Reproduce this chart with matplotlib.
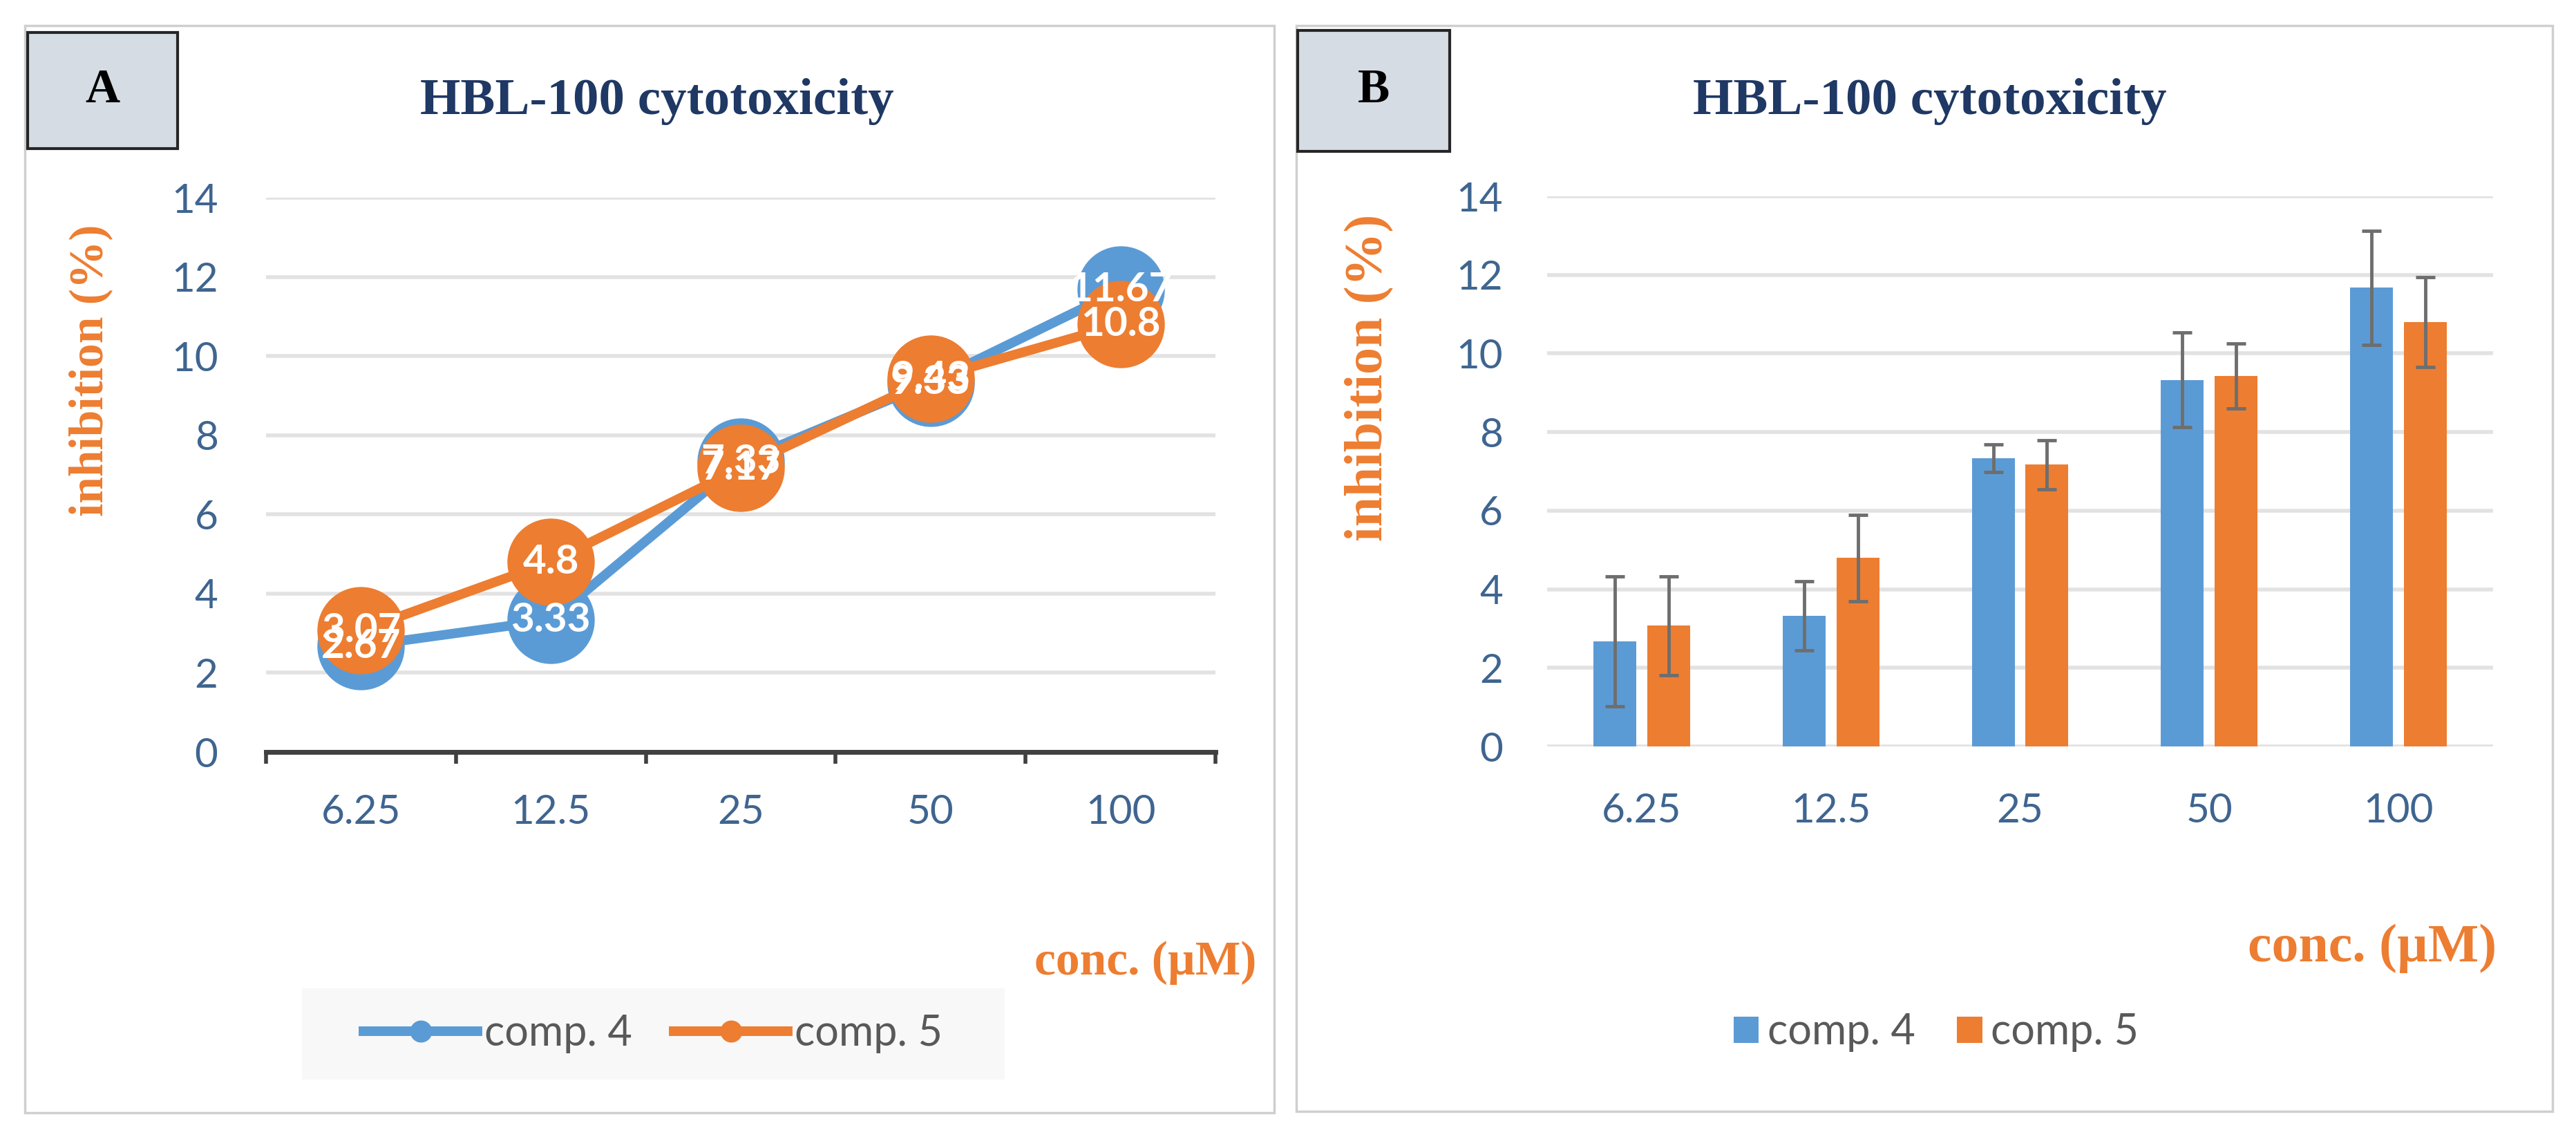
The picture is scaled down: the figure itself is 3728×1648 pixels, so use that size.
import matplotlib
matplotlib.use('Agg')
import matplotlib.pyplot as plt
from matplotlib.patches import Rectangle, Patch
from matplotlib.lines import Line2D

# ---- data ----
categories = ['6.25', '12.5', '25', '50', '100']
comp4 = [2.67, 3.33, 7.33, 9.33, 11.67]
comp5 = [3.07, 4.8, 7.17, 9.43, 10.8]
comp4_err = [1.65, 0.88, 0.35, 1.2, 1.45]
comp5_err = [1.25, 1.1, 0.62, 0.83, 1.15]
yticks = [0, 2, 4, 6, 8, 10, 12, 14]
series_names = ['comp. 4', 'comp. 5']
title = 'HBL-100 cytotoxicity'
ylabel = 'inhibition (%)'
xlabel = 'conc. (µM)'

BLUE = '#5b9bd5'
ORANGE = '#ed7d31'
TICKC = '#3f6590'
GRID = '#e2e2e2'
NAVY = '#1f3864'
SANS = ['Lato', 'DejaVu Sans']
SERIF = ['Liberation Serif', 'DejaVu Serif']

W, H = 3728, 1648
fig = plt.figure(figsize=(W / 100, H / 100), dpi=100)
fig.patch.set_facecolor('white')


def fx(px):
    return px / W


def fy(py):
    return 1 - py / H


def rect_px(x0, y0, x1, y1, **kw):
    r = Rectangle((fx(x0), fy(y1)), fx(x1) - fx(x0), fy(y0) - fy(y1),
                  transform=fig.transFigure, **kw)
    fig.add_artist(r)
    return r


# panel frames
rect_px(36, 37, 1844, 1610, facecolor='white', edgecolor='#cfcfcf', lw=2.5, zorder=0)
rect_px(1876, 37, 3694, 1608, facecolor='white', edgecolor='#cfcfcf', lw=2.5, zorder=0)

# label boxes
rect_px(40, 47, 257, 215, facecolor='#d6dce4', edgecolor='#262626', lw=3, zorder=1)
rect_px(1878, 44, 2098, 219, facecolor='#d6dce4', edgecolor='#262626', lw=3, zorder=1)
fig.text(fx(148), fy(131), 'A', family=SERIF, weight='bold', fontsize=50,
         ha='center', va='center', color='black')
fig.text(fx(1988), fy(131), 'B', family=SERIF, weight='bold', fontsize=50,
         ha='center', va='center', color='black')

# titles
for cx in (951, 2793):
    fig.text(fx(cx), fy(147), title, family=SERIF, weight='bold', fontsize=54,
             ha='center', va='center', color=NAVY)

x = list(range(len(categories)))

# ---------------- Panel A: line chart ----------------
axA = fig.add_axes([fx(385), fy(1088), fx(1759) - fx(385), fy(286) - fy(1088)])
axA.set_xlim(-0.5, len(categories) - 0.5)
axA.set_ylim(0, 14)
axA.set_yticks(yticks)
axA.yaxis.grid(True, color=GRID, lw=4)
axA.set_axisbelow(True)
for s in ('top', 'right', 'left'):
    axA.spines[s].set_visible(False)
axA.spines['bottom'].set_color('#404040')
axA.spines['bottom'].set_linewidth(5)
axA.spines['bottom'].set_zorder(1.5)
axA.set_xticks([i - 0.5 for i in range(len(categories) + 1)])
axA.set_xticklabels([])
axA.tick_params(axis='x', which='major', length=12, width=4, color='#404040', direction='out')
axA.set_xticks(x, minor=True)
axA.set_xticklabels(categories, minor=True)
axA.tick_params(axis='x', which='minor', length=0, pad=44, labelsize=42, labelcolor=TICKC)
axA.tick_params(axis='y', length=0, pad=50, labelsize=42, labelcolor=TICKC)
for lab in axA.get_xticklabels(minor=True) + axA.get_yticklabels():
    lab.set_family(SANS)

axA.plot(x, comp4, color=BLUE, lw=10, marker='o', ms=90, mec=BLUE, mfc=BLUE,
         zorder=3, solid_capstyle='round')
axA.plot(x, comp5, color=ORANGE, lw=10, marker='o', ms=90, mec=ORANGE, mfc=ORANGE,
         zorder=4, solid_capstyle='round')
for xi, v in zip(x, comp4):
    axA.text(xi, v, f'{v:g}', ha='center', va='center', color='white',
             fontsize=42, weight='bold', family=SANS, zorder=6, clip_on=False)
for xi, v in zip(x, comp5):
    axA.text(xi, v, f'{v:g}', ha='center', va='center', color='white',
             fontsize=42, weight='bold', family=SANS, zorder=7, clip_on=False)

fig.text(fx(131), fy(536), ylabel, family=SERIF, weight='bold', fontsize=50,
         color=ORANGE, rotation=90, ha='center', va='center')
fig.text(fx(1818), fy(1393), xlabel, family=SERIF, weight='bold', fontsize=50,
         color=ORANGE, ha='right', va='center')

# legend A
rect_px(437, 1430, 1454, 1562, facecolor='#f8f8f8', edgecolor='none', zorder=1)
hA = [Line2D([], [], color=BLUE, lw=10, marker='o', ms=22),
      Line2D([], [], color=ORANGE, lw=10, marker='o', ms=22)]
legA = fig.legend(hA, series_names, loc='center', bbox_to_anchor=(fx(945), fy(1496)),
                  ncol=2, frameon=False, handlelength=2.7, handletextpad=0.15,
                  columnspacing=1.0, prop={'family': SANS, 'size': 44})
for t in legA.get_texts():
    t.set_color('#595959')

# ---------------- Panel B: bar chart ----------------
axB = fig.add_axes([fx(2239), fy(1080), fx(3608) - fx(2239), fy(284) - fy(1080)])
axB.set_xlim(-0.5, len(categories) - 0.5)
axB.set_ylim(0, 14)
axB.set_yticks(yticks)
axB.yaxis.grid(True, color=GRID, lw=4)
axB.set_axisbelow(True)
for s in axB.spines.values():
    s.set_visible(False)
bw = 0.227
off = 0.142
xb4 = [xi - off for xi in x]
xb5 = [xi + off for xi in x]
ekw = dict(ecolor='#6e6e6e', elinewidth=3.5, capsize=10, capthick=3.5)
axB.bar(xb4, comp4, width=bw, color=BLUE, yerr=comp4_err, error_kw=ekw, zorder=2)
axB.bar(xb5, comp5, width=bw, color=ORANGE, yerr=comp5_err, error_kw=ekw, zorder=2)
axB.set_xticks(x)
axB.set_xticklabels(categories)
axB.tick_params(axis='x', length=0, pad=48, labelsize=42, labelcolor=TICKC)
axB.tick_params(axis='y', length=0, pad=46, labelsize=42, labelcolor=TICKC)
for lab in axB.get_xticklabels() + axB.get_yticklabels():
    lab.set_family(SANS)

fig.text(fx(1982), fy(546), ylabel, family=SERIF, weight='bold', fontsize=56,
         color=ORANGE, rotation=90, ha='center', va='center')
fig.text(fx(3613), fy(1372), xlabel, family=SERIF, weight='bold', fontsize=56,
         color=ORANGE, ha='right', va='center')

hB = [Patch(facecolor=BLUE), Patch(facecolor=ORANGE)]
legB = fig.legend(hB, series_names, loc='center', bbox_to_anchor=(fx(2802), fy(1494)),
                  ncol=2, frameon=False, handlelength=0.6, handleheight=0.6,
                  handletextpad=0.2, columnspacing=1.0, prop={'family': SANS, 'size': 44})
for t in legB.get_texts():
    t.set_color('#595959')

fig.savefig('out.png', dpi=100, facecolor='white')
